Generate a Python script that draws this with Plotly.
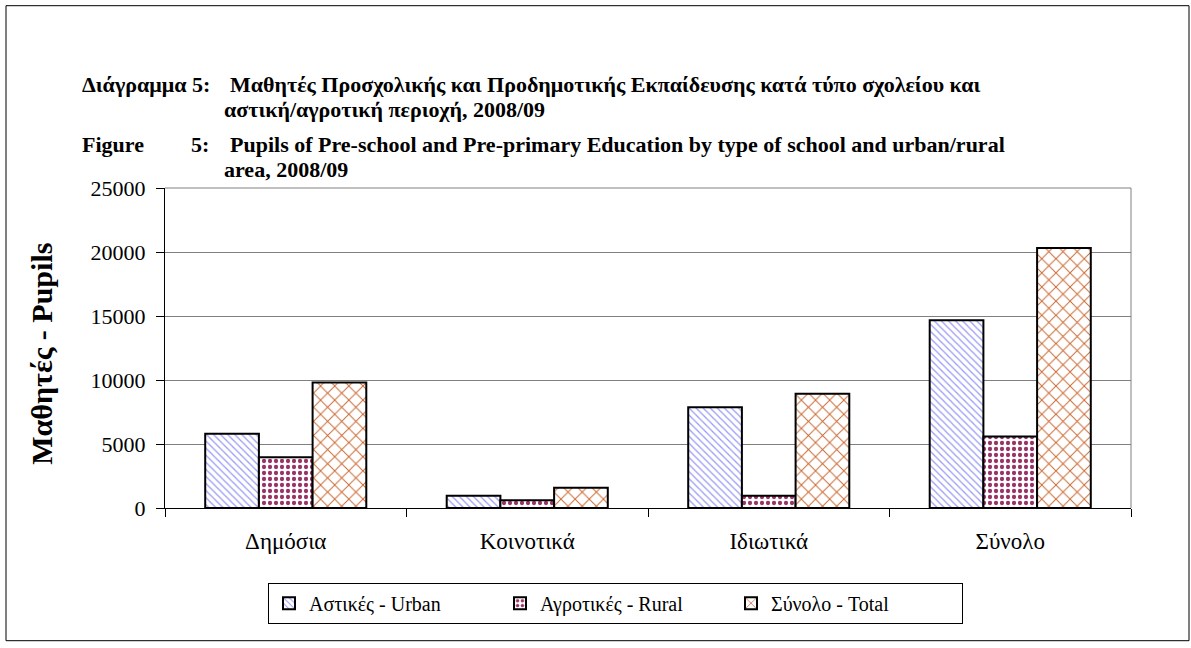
import plotly.graph_objects as go

categories = ["Δημόσια", "Κοινοτικά", "Ιδιωτικά", "Σύνολο"]
urban = [5810, 950, 7870, 14660]
rural = [3960, 610, 960, 5590]
total = [9800, 1580, 8930, 20310]
series_names = ["Αστικές - Urban", "Αγροτικές - Rural", "Σύνολο - Total"]
y_ticks = [0, 5000, 10000, 15000, 20000, 25000]

W, H = 1191, 648
L, R, T, B = 165, 1131, 188.3, 508.3
PW, PH = R - L, B - T

def px(x):
    return (x - L) / PW

def py(y):
    return (B - y) / PH

FONT = "Liberation Serif"

fig = go.Figure()
styles = [
    dict(shape="\\", fgcolor="#9a9af7", size=5, solidity=0.25),
    dict(shape=".", fgcolor="#993366", size=6, solidity=0.4),
    dict(shape="x", fgcolor="#c8672f", size=10, solidity=0.18),
]
for name, vals, st in zip(series_names, [urban, rural, total], styles):
    fig.add_trace(go.Bar(
        x=categories, y=vals, name=name,
        marker=dict(color="white", line=dict(color="black", width=2),
                    pattern=dict(fillmode="replace", bgcolor="white", **st)),
    ))

fig.update_layout(
    width=W, height=H,
    margin=dict(l=L, r=W - R, t=T, b=H - B, pad=0),
    paper_bgcolor="white", plot_bgcolor="white",
    barmode="group", bargap=0.333, bargroupgap=0,
    font=dict(family=FONT, size=20, color="black"),
    showlegend=True,
    legend=dict(orientation="h", x=px(268), y=py(583), xanchor="left", yanchor="top",
                bordercolor="black", borderwidth=1, bgcolor="white",
                font=dict(family=FONT, size=20),
                entrywidth=186, entrywidthmode="pixels", itemwidth=30,
                tracegroupgap=0),
    xaxis=dict(type="category", showline=True, linecolor="black", linewidth=1,
               ticks="outside", tickson="boundaries", ticklen=8, tickcolor="black",
               tickfont=dict(family=FONT, size=23), showgrid=False,
               ticklabelstandoff=12),
    yaxis=dict(range=[0, 25000], tickvals=y_ticks, tickformat="d", showline=True,
               linecolor="black", linewidth=1, ticks="outside", ticklen=8,
               tickcolor="black", showgrid=True, gridcolor="#808080", gridwidth=1,
               tickfont=dict(family=FONT, size=22), ticklabelstandoff=6,
               zeroline=False),
)

# plot frame (top and right)
fig.add_shape(type="line", xref="paper", yref="paper", x0=0, x1=1, y0=1, y1=1,
              line=dict(color="#808080", width=1))
fig.add_shape(type="line", xref="paper", yref="paper", x0=1, x1=1, y0=0, y1=1,
              line=dict(color="#808080", width=1))
# outer border
fig.add_shape(type="rect", xref="paper", yref="paper", x0=px(6), x1=px(1189),
              y0=py(641), y1=py(6), line=dict(color="black", width=1), layer="below")

def ann(text, x, y, size=22, bold=True, **kw):
    fig.add_annotation(text=("<b>%s</b>" % text) if bold else text,
                       xref="paper", yref="paper", x=px(x), y=py(y),
                       xanchor="left", yanchor="middle", showarrow=False,
                       font=dict(family=FONT, size=size, color="black"), **kw)

TS = 22
ann("Διάγραμμα 5:", 80, 85, TS)
ann("Μαθητές Προσχολικής και Προδημοτικής Εκπαίδευσης κατά τύπο σχολείου και", 228, 85, TS)
ann("αστική/αγροτική περιοχή, 2008/09", 222, 110, TS)
ann("Figure", 80, 145, TS)
ann("5:", 189, 145, TS)
ann("Pupils of Pre-school and Pre-primary Education by type of school and urban/rural", 228, 145, TS)
ann("area, 2008/09", 222, 170, TS)

fig.add_annotation(text="<b>Μαθητές - Pupils</b>", xref="paper", yref="paper",
                   x=px(42), y=py(354), xanchor="center", yanchor="middle",
                   textangle=-90, showarrow=False,
                   font=dict(family=FONT, size=30, color="black"))

fig.write_html("out.html", config={"displayModeBar": False},
               post_script="document.body.style.margin='0';document.body.style.padding='0';document.body.style.overflow='hidden';")
